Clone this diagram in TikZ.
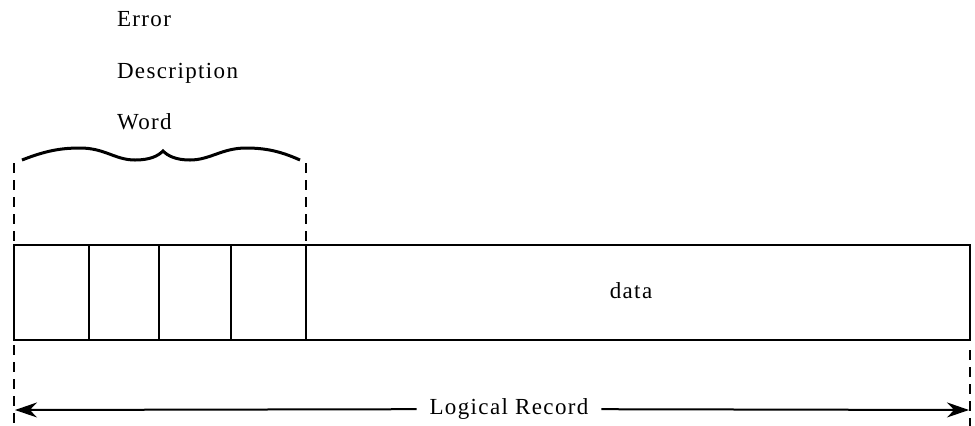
\documentclass[tikz,border=0pt]{standalone}
\usepackage{fontspec}
\setmainfont{Liberation Serif}
\usetikzlibrary{arrows.meta,positioning}
\tikzset{
  >={Stealth[length=11pt,width=7.5pt]},
  cell/.style={draw,line width=1.2pt,minimum height=47.5pt,inner sep=0pt,outer sep=0pt},
  guide/.style={line width=1.3pt,dash pattern=on 5pt off 3.5pt},
  txt/.style={font=\fontsize{11.5}{13}\selectfont\addfontfeature{LetterSpace=6},inner sep=0pt},
  every picture/.style={line width=1pt},
}
\begin{document}
\begin{tikzpicture}[x=0.5pt,y=-0.5pt]
\useasboundingbox (0,0) rectangle (975,425);
% heading over the brace
\node[txt,anchor=base west] (err) at (116,26) {Error};
\node[txt,anchor=base west] (desc) at (116,78) {Description};
\node[txt,anchor=base west] (word) at (116,129) {Word};
% the record
\node[cell,minimum width=37.5pt,anchor=north west] (c1) at (14,245) {};
\node[cell,minimum width=35pt,right=0pt of c1] (c2) {};
\node[cell,minimum width=36pt,right=0pt of c2] (c3) {};
\node[cell,minimum width=37.5pt,right=0pt of c3] (c4) {};
\node[cell,minimum width=332pt,right=0pt of c4] (dat) {};
\node[txt,anchor=base] (datlbl) at (631,298) {data};
% brace
\draw[line width=1.5pt] (22,160) .. controls (45,151) and (60,148) .. (80,148)
  .. controls (105,148) and (115,160) .. (135,160)
  .. controls (150,160) and (158,156) .. (163,151)
  .. controls (168,156) and (176,160) .. (190,160)
  .. controls (210,160) and (222,148) .. (246,148)
  .. controls (265,148) and (280,151) .. (300,160);
% guide lines
\draw[guide] ([yshift=41pt]c1.north west) -- ([yshift=1pt]c1.north west);
\draw[guide] ([yshift=41pt]c4.north east) -- ([yshift=1pt]c4.north east);
\draw[guide] ([yshift=-2.5pt]c1.south west) -- ++(0,80);
\draw[guide] ([yshift=-5pt]dat.south east) -- ++(0,76);
% extent of the record
\coordinate (lrl) at (15,410);
\coordinate (lrr) at (969,410);
\node[txt,fill=white,inner xsep=6pt,inner ysep=2pt] (lrec) at (509,409) {Logical Record};
\draw[->] (lrec) -- (lrl);
\draw[->] (lrec) -- (lrr);
\end{tikzpicture}
\end{document}
